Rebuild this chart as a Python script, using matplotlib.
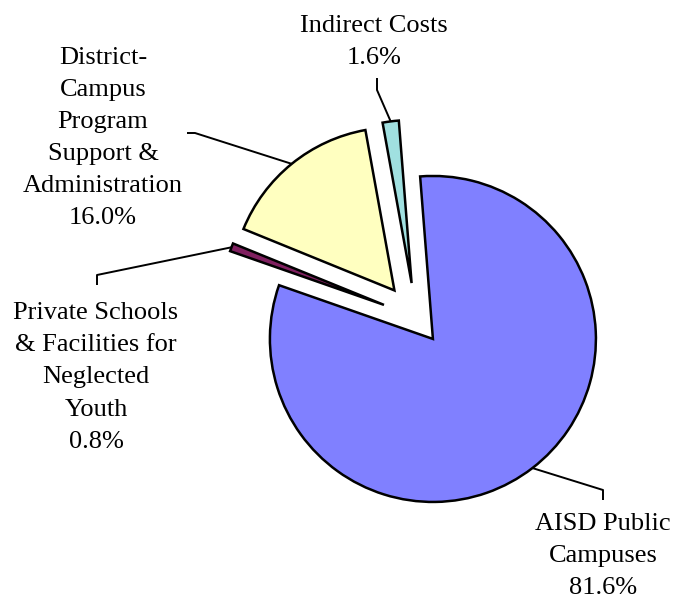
import numpy as np
import matplotlib
matplotlib.use("Agg")
import matplotlib.pyplot as plt

# ── Datos del gráfico ──
categorias = [
    "AISD Public\nCampuses",
    "Private Schools\n& Facilities for\nNeglected\nYouth",
    "District-\nCampus\nProgram\nSupport &\nAdministration",
    "Indirect Costs",
]
porcentajes = [81.6, 0.8, 16.0, 1.6]
colores = ["#8080FF", "#802060", "#FFFFC0", "#A0E0E0"]
separacion = [0.17, 0.21, 0.21, 0.21]   # fracción del radio

W, H = 673, 600
fig = plt.figure(figsize=(W / 100, H / 100), dpi=100)
ax = fig.add_axes([0, 0, 1, 1])

# Coordenadas en píxeles (y hacia arriba)
centro = (416, H - 317)
radio = 163

wedges, _ = ax.pie(
    porcentajes, colors=colores, explode=[s * radio for s in separacion],
    startangle=94.5, counterclock=False,
    center=centro, radius=radio,
    wedgeprops=dict(edgecolor="black", linewidth=1.8),
)
ax.set_xlim(0, W)
ax.set_ylim(0, H)
ax.set_aspect("equal")
ax.axis("off")

# ── Etiquetas con líneas guía: (codo, extremo, posición texto, ha, va) ──
guias = [
    ((603, 490), (603, 500), (603, 513), "center", "top"),
    ((97, 275), (97, 285), (96, 302), "center", "top"),
    ((195, 133), (187, 133), (103, 138), "center", "center"),
    ((377, 90), (377, 78), (374, 69), "center", "bottom"),
]

for w, cat, pct, (codo, fin, pos, ha, va) in zip(wedges, categorias, porcentajes, guias):
    ang = np.deg2rad((w.theta1 + w.theta2) / 2)
    x0 = w.center[0] + w.r * np.cos(ang)
    y0 = w.center[1] + w.r * np.sin(ang)
    ax.plot([x0, codo[0], fin[0]], [y0, H - codo[1], H - fin[1]],
            color="black", lw=1.4, solid_capstyle="butt")
    ax.text(pos[0], H - pos[1], f"{cat}\n{pct:.1f}%", ha=ha, va=va,
            multialignment="center", fontsize=19, linespacing=1.6,
            family="Liberation Serif", color="black")

fig.savefig("out.png", dpi=100, facecolor="white")
